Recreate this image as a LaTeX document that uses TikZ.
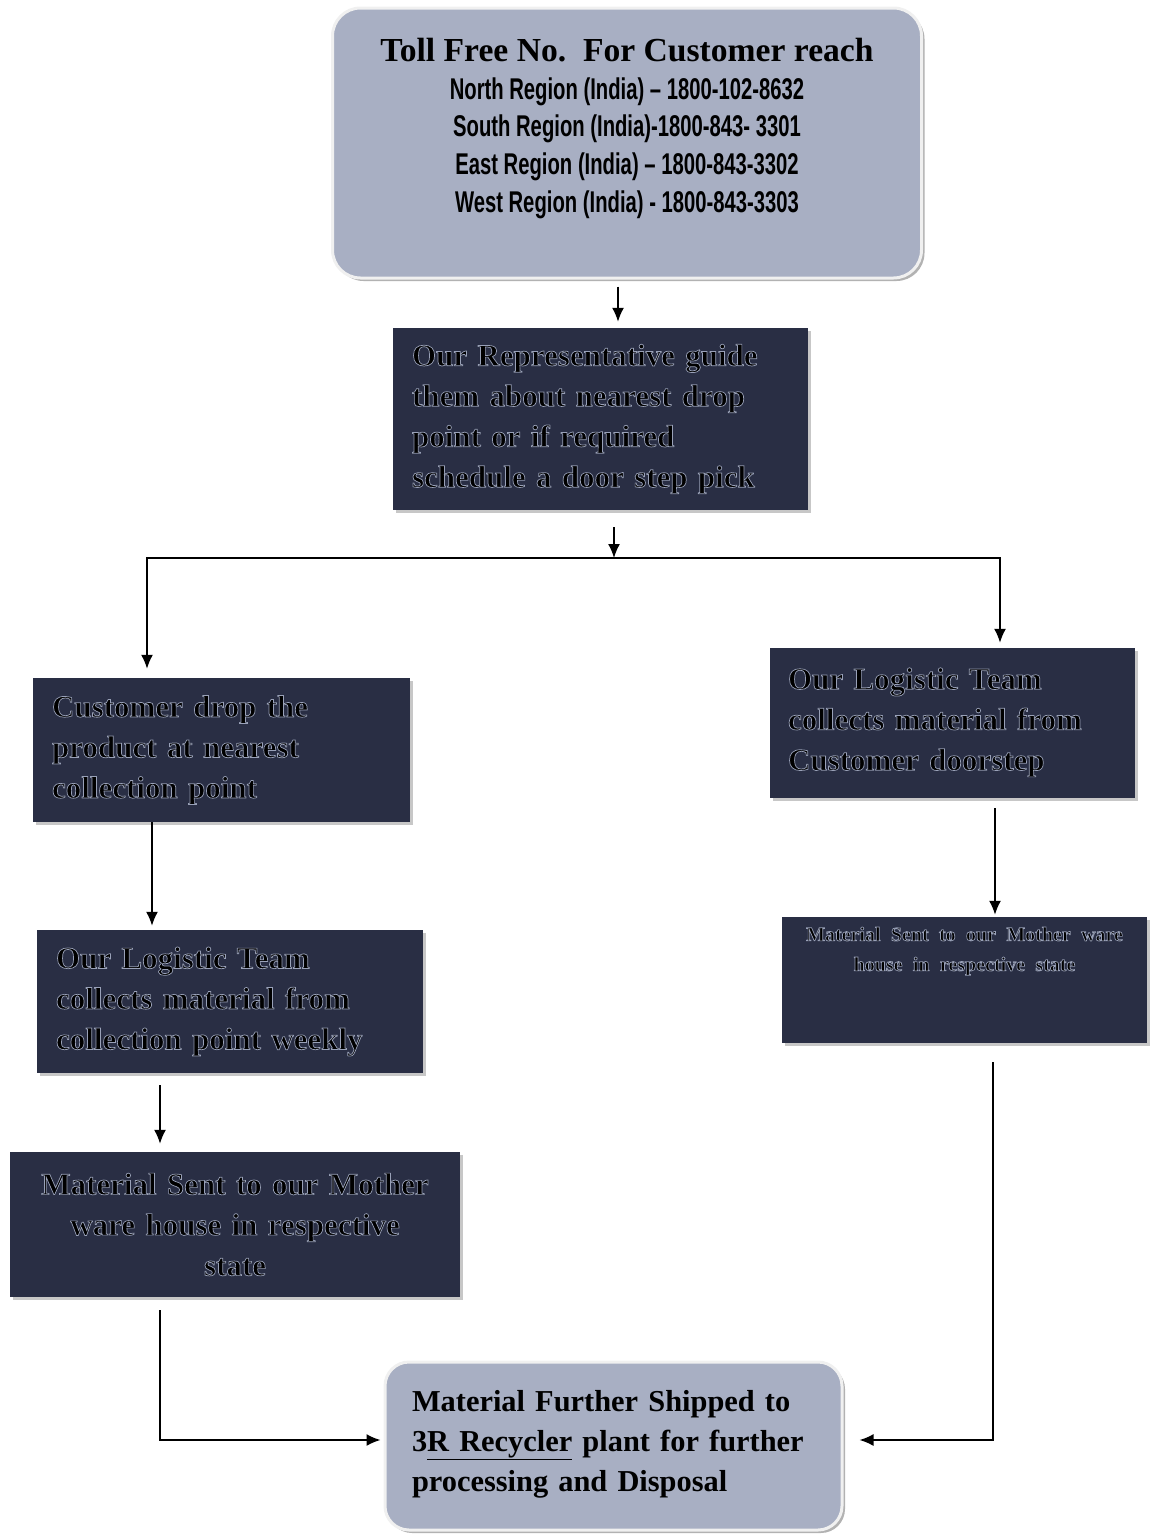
\documentclass[tikz,border=0pt]{standalone}
\usepackage{fontspec}
\setmainfont{Liberation Serif}
\newfontfamily\condfont[FakeStretch=0.675]{Liberation Sans}
\usetikzlibrary{arrows.meta,calc,shadows}
\definecolor{lightfill}{HTML}{A8AFC3}
\definecolor{darkfill}{HTML}{292E44}
\newcommand\haloon{\special{pdf:literal 2 Tr 0.7 w 0.60 0.63 0.72 RG}}
\newcommand\halooff{\special{pdf:literal 0 Tr}}
\tikzset{
  x=1pt, y=-1pt,
  lightbox/.style={rectangle, rounded corners=28pt, fill=lightfill, draw=white!88!gray, line width=3pt,
    drop shadow={shadow xshift=3pt, shadow yshift=-3pt, fill=black!30, opacity=1}},
  darkbox/.style={rectangle, fill=darkfill, draw=none, inner ysep=0pt,
    drop shadow={shadow xshift=3pt, shadow yshift=-3pt, fill=black!22, opacity=1},
    font=\bfseries\fontsize{31}{40.5}\selectfont, align=left},
  arr/.style={line width=1.6pt, -{Latex[length=14pt,width=12pt]}},
}
\begin{document}
\begin{tikzpicture}
\useasboundingbox (0,0) rectangle (1152,1540);
% top box
\node[lightbox, minimum width=589pt, minimum height=270pt, inner sep=0pt] (top) at (627,143)
 {\parbox[c][210pt][t]{575pt}{\centering
  {\bfseries\fontsize{33.6}{40}\selectfont Toll Free No.\ \ For Customer reach\par}
  {\condfont\bfseries\fontsize{30}{37.7}\selectfont North Region (India) – 1800-102-8632\\
  South Region (India)-1800-843- 3301\\
  East Region (India) – 1800-843-3302\\
  West Region (India) - 1800-843-3303\par}}};
% representative box
\node[darkbox, text width=377pt, inner xsep=19pt, minimum height=182pt] (b2) at (600.5,419)
 {\haloon Our Representative guide\\ them about nearest drop\\ point or if required\\ schedule a door step pick\halooff};
% left column
\node[darkbox, text width=339pt, inner xsep=19pt, minimum height=144pt] (l1) at (221.5,750)
 {\haloon Customer drop the\\ product at nearest\\ collection point\halooff};
\node[darkbox, text width=348pt, inner xsep=19pt, minimum height=143pt] (l2) at (230,1001.5)
 {\haloon Our Logistic Team\\ collects material from\\ collection point weekly\halooff};
\node[darkbox, text width=412pt, inner xsep=19pt, minimum height=145pt, align=center] (l3) at (235,1224.5)
 {\haloon Material Sent to our Mother\\ ware house in respective\\ state\halooff};
% right column
\node[darkbox, text width=329pt, inner xsep=18pt, minimum height=150pt] (r1) at (952.5,723)
 {\parbox[c][150pt][c]{329pt}{\haloon Our Logistic Team\\ collects material from\\ Customer doorstep\\[-32.5pt]\halooff}};
\node[darkbox, text width=329pt, inner xsep=18pt, minimum height=126pt, align=center] (r2) at (964.5,980)
 {\parbox[c][106pt][t]{329pt}{\centering\fontsize{20}{30}\selectfont\haloon Material Sent to our Mother ware\\ house in respective state\halooff}};
% bottom box
\node[lightbox, rounded corners=24pt, text width=403pt, inner xsep=27pt, inner ysep=0pt, minimum height=168pt,
  font=\bfseries\fontsize{30.4}{40}\selectfont, align=left] (bot) at (613.5,1446)
 {\parbox[c][168pt][c]{403pt}{Material Further Shipped to\\ 3\underline{R Recycler} plant for further\\ processing and Disposal\\[-30pt]}};
% connectors
\coordinate (split) at (614,558);
\draw[arr] ($(top.south)+(-9,7)$) -- ($(b2.north)+(17.5,-6)$);
\draw[arr] ($(b2.south)+(13.5,17)$) -- (split);
\draw[arr] (split) -| ($(l1.north)+(-74.5,-9)$);
\draw[arr] (split) -| ($(r1.north)+(47.5,-5)$);
\draw[arr] ($(l1.south)+(-69.5,0)$) -- ($(l2.north)+(-78,-4)$);
\draw[arr] ($(l2.south)+(-70,12)$) -- ($(l3.north)+(-75,-8)$);
\draw[arr] ($(l3.south)+(-75,13)$) |- ($(bot.west)+(-3,-6)$);
\draw[arr] ($(r1.south)+(42.5,10)$) -- ($(r2.north)+(30.5,-2)$);
\draw[arr] ($(r2.south)+(28.5,19)$) |- ($(bot.east)+(16,-6)$);
\end{tikzpicture}
\end{document}
